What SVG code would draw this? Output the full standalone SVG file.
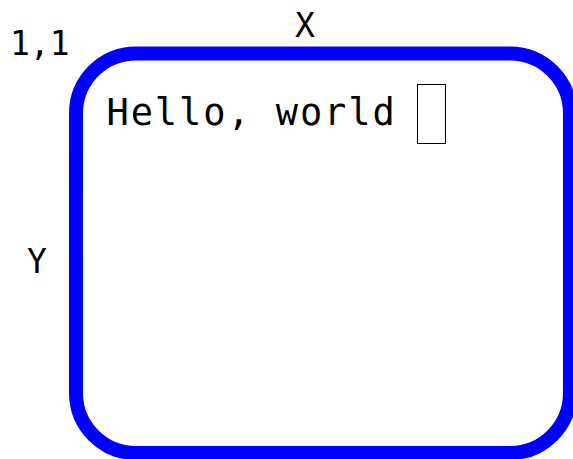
<svg xmlns="http://www.w3.org/2000/svg" width="573" height="459" viewBox="0 0 573 459">
<style>
.lbl{font-family:"DejaVu Sans Mono",monospace;font-size:33px;fill:#000}
.txt{font-family:"DejaVu Sans Mono",monospace;font-size:37px;letter-spacing:1.9px;fill:#000}
</style>
<rect width="573" height="459" fill="#fff"/>
<g id="screen">
<rect x="76" y="53.5" width="494" height="399.5" rx="60" ry="60" fill="none" stroke="#0000ff" stroke-width="14"/>
</g>
<g id="labels">
<text class="lbl" x="10" y="55">1,1</text>
<text class="lbl" x="305" y="37" text-anchor="middle">X</text>
<text class="lbl" x="37" y="273" text-anchor="middle">Y</text>
</g>
<g id="content">
<text class="txt" x="106.5" y="125">Hello, world</text>
<rect x="417.5" y="84.5" width="28" height="59" fill="none" stroke="#000" stroke-width="1"/>
</g>
</svg>
